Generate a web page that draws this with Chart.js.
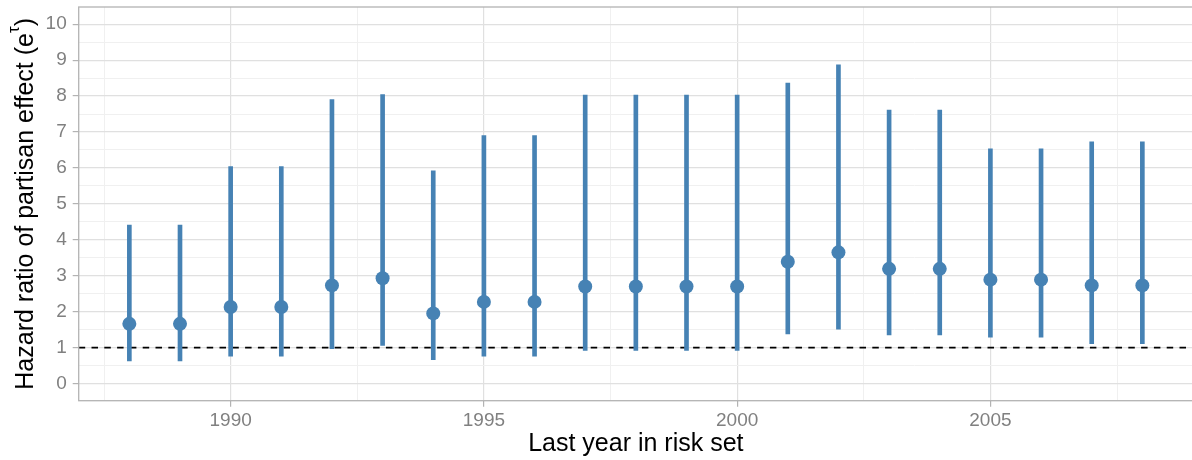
<!DOCTYPE html>
<html>
<head>
<meta charset="utf-8">
<script src="https://cdn.jsdelivr.net/npm/chart.js@4"></script>
<style>
html,body{margin:0;padding:0;overflow:hidden;background:#fff;}
#wrap{width:1200px;height:460px;}
</style>
</head>
<body>
<div id="wrap"><canvas id="c" width="1200" height="460"></canvas></div>
<script>
// ---- data ----
const years = [1988,1989,1990,1991,1992,1993,1994,1995,1996,1997,1998,1999,2000,2001,2002,2003,2004,2005,2006,2007,2008];
const hazardRatio = [1.66,1.66,2.13,2.13,2.73,2.93,1.95,2.27,2.27,2.70,2.70,2.70,2.70,3.39,3.65,3.19,3.19,2.89,2.89,2.73,2.73];
const lowerCI = [0.63,0.63,0.76,0.76,0.97,1.06,0.66,0.76,0.76,0.92,0.92,0.92,0.92,1.38,1.51,1.35,1.35,1.29,1.29,1.11,1.11];
const upperCI = [4.41,4.41,6.04,6.04,7.90,8.04,5.92,6.90,6.90,8.03,8.03,8.03,8.03,8.36,8.87,7.61,7.61,6.53,6.53,6.73,6.73];
const refLine = 1;
const xMajorTicks = [1990,1995,2000,2005];
const xMinorTicks = [1987.5,1992.5,1997.5,2002.5,2007.5];
const yMajorTicks = [0,1,2,3,4,5,6,7,8,9,10];
const yMinorTicks = [0.5,1.5,2.5,3.5,4.5,5.5,6.5,7.5,8.5,9.5];
const xRange = [1987, 2009];
const yRange = [-0.48, 10.48];
const xTitle = 'Last year in risk set';
const yTitleMain = 'Hazard ratio of partisan effect (e';
const yTitleSup = 'τ';
const yTitleEnd = ')';

const COLOR = '#4682B4';
const FONT = "'Liberation Sans', Arial, sans-serif";
const GRID_MAJOR = '#e0e0e0';
const GRID_MINOR = '#f0f0f0';
const BORDER = '#b3b3b3';
const TICK_TEXT = '#808080';

const xMajSet = new Set(xMajorTicks);
const yMajSet = new Set(yMajorTicks);
const tv = c => (c && c.tick) ? c.tick.value : null;

const panelPlugin = {
  id: 'panel',
  afterDatasetsDraw(chart) {
    const {ctx, chartArea: a} = chart;
    ctx.save();
    ctx.strokeStyle = BORDER;
    ctx.lineWidth = 1.3;
    ctx.strokeRect(a.left, a.top, a.right - a.left, a.bottom - a.top);
    ctx.restore();
  },
  afterDraw(chart) {
    const {ctx, chartArea: a} = chart;
    ctx.save();
    const big = '25px ' + FONT, small = '17px ' + FONT;
    ctx.font = big;
    const w1 = ctx.measureText(yTitleMain).width;
    const w3 = ctx.measureText(yTitleEnd).width;
    ctx.font = small;
    const w2 = ctx.measureText(yTitleSup).width;
    const total = w1 + w2 + w3;
    ctx.translate(33, (a.top + a.bottom) / 2);
    ctx.rotate(-Math.PI / 2);
    ctx.fillStyle = '#000';
    ctx.textBaseline = 'alphabetic';
    ctx.textAlign = 'left';
    let x = -total / 2;
    ctx.font = big;
    ctx.fillText(yTitleMain, x, 0);
    x += w1;
    ctx.font = small;
    ctx.fillText(yTitleSup, x, -14);
    x += w2;
    ctx.font = big;
    ctx.fillText(yTitleEnd, x, 0);
    ctx.restore();
  }
};

new Chart(document.getElementById('c'), {
  type: 'scatter',
  data: {
    datasets: [
      {
        type: 'scatter',
        data: years.map((y, i) => ({x: y, y: hazardRatio[i]})),
        backgroundColor: COLOR,
        borderWidth: 0,
        pointRadius: 7,
        pointHoverRadius: 7,
        order: 0
      },
      {
        type: 'bar',
        data: years.map((y, i) => ({x: y, y: [lowerCI[i], upperCI[i]]})),
        backgroundColor: COLOR,
        borderWidth: 0,
        barThickness: 4,
        order: 1
      },
      {
        type: 'line',
        data: [{x: xRange[0], y: refLine}, {x: xRange[1], y: refLine}],
        borderColor: '#000',
        borderWidth: 1.8,
        borderDash: [6.5, 6.3],
        pointRadius: 0,
        fill: false,
        order: 2
      }
    ]
  },
  options: {
    responsive: false,
    animation: false,
    layout: {padding: {top: 4.7, right: 4, left: 0, bottom: 0}},
    plugins: {legend: {display: false}, tooltip: {enabled: false}},
    scales: {
      x: {
        type: 'linear',
        bounds: 'data',
        offset: false,
        min: xRange[0],
        max: xRange[1],
        afterBuildTicks: s => { s.ticks = [...xMinorTicks, ...xMajorTicks].sort((a,b)=>a-b).map(v => ({value: v})); },
        afterFit: s => { s.height = 59.3; s.paddingLeft = 0; s.paddingRight = 0; },
        border: {display: false},
        grid: {
          offset: false,
          color: c => xMajSet.has(tv(c)) ? GRID_MAJOR : GRID_MINOR,
          lineWidth: c => xMajSet.has(tv(c)) ? 1.2 : 1,
          tickColor: c => xMajSet.has(tv(c)) ? BORDER : 'rgba(0,0,0,0)',
          tickLength: 6,
          drawTicks: true
        },
        ticks: {
          autoSkip: false,
          maxRotation: 0,
          padding: 3,
          color: TICK_TEXT,
          font: {family: FONT, size: 19},
          callback: v => xMajSet.has(v) ? String(v) : ''
        },
        title: {
          display: true,
          text: xTitle,
          color: '#000',
          font: {family: FONT, size: 25},
          padding: {top: 0, bottom: 1}
        }
      },
      y: {
        type: 'linear',
        bounds: 'data',
        offset: false,
        min: yRange[0],
        max: yRange[1],
        afterBuildTicks: s => { s.ticks = [...yMinorTicks, ...yMajorTicks].sort((a,b)=>a-b).map(v => ({value: v})); },
        afterFit: s => { s.width = 78.7; s.paddingTop = 0; s.paddingBottom = 0; },
        border: {display: false},
        grid: {
          offset: false,
          color: c => yMajSet.has(tv(c)) ? GRID_MAJOR : GRID_MINOR,
          lineWidth: c => yMajSet.has(tv(c)) ? 1.2 : 1,
          tickColor: c => yMajSet.has(tv(c)) ? BORDER : 'rgba(0,0,0,0)',
          tickLength: 6,
          drawTicks: true
        },
        ticks: {
          autoSkip: false,
          padding: 6,
          color: TICK_TEXT,
          font: {family: FONT, size: 19},
          callback: v => yMajSet.has(v) ? String(v) : ''
        }
      }
    }
  },
  plugins: [panelPlugin]
});
</script>
</body>
</html>
